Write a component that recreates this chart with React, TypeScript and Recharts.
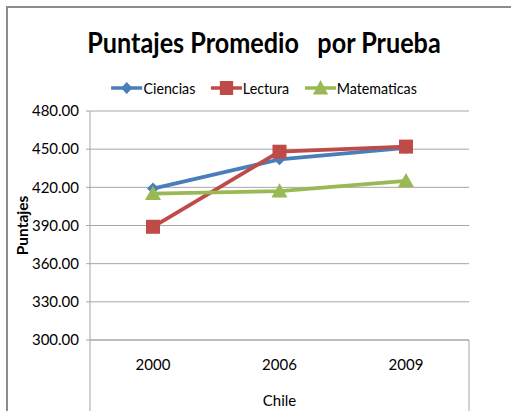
import React from 'react';
import { LineChart, Line, XAxis, YAxis, CartesianGrid } from 'recharts';

const categories = ['2000', '2006', '2009'];
const ciencias = [419, 442, 451];
const lectura = [389, 448, 452];
const matematicas = [415, 417, 425];
const yTicks = [300, 330, 360, 390, 420, 450, 480];

const seriesNames = ['Ciencias', 'Lectura', 'Matematicas'];
const seriesColors = ['#4a7ebb', '#be4b48', '#98b954'];

const data = categories.map((c, i) => ({
  year: c,
  Ciencias: ciencias[i],
  Lectura: lectura[i],
  Matematicas: matematicas[i],
}));

const FONT = 'Lato, "Liberation Sans", Arial, sans-serif';
const GRID = '#a6a6a6';

function Marker({ shape, cx, cy, color }: { shape: string; cx: number; cy: number; color: string }) {
  if (shape === 'diamond') {
    const r = 6;
    return <polygon points={`${cx},${cy - r} ${cx + r},${cy} ${cx},${cy + r} ${cx - r},${cy}`} fill={color} />;
  }
  if (shape === 'square') {
    const r = 7;
    return <rect x={cx - r} y={cy - r} width={2 * r} height={2 * r} fill={color} />;
  }
  const r = 8;
  return <polygon points={`${cx},${cy - r} ${cx + r},${cy + r * 0.8} ${cx - r},${cy + r * 0.8}`} fill={color} />;
}

const shapes = ['diamond', 'square', 'triangle'];

const makeDot = (shape: string, color: string) => (props: any) => {
  const { cx, cy, index } = props;
  if (cx == null || cy == null) return <g key={index} />;
  return <Marker key={index} shape={shape} cx={cx} cy={cy} color={color} />;
};

function Legend() {
  return (
    <div
      style={{
        position: 'absolute',
        left: 0,
        top: 79,
        width: 528,
        display: 'flex',
        justifyContent: 'center',
        gap: 16,
        fontFamily: FONT,
        fontSize: 15,
        lineHeight: '18px',
        color: '#000',
        transform: 'scaleX(0.95)',
        transformOrigin: '264px 0',
      }}
    >
      {seriesNames.map((n, i) => (
        <div key={n} style={{ display: 'flex', alignItems: 'center' }}>
          <svg width={33} height={18}>
            <line x1={0} y1={9} x2={33} y2={9} stroke={seriesColors[i]} strokeWidth={3.5} />
            <Marker shape={shapes[i]} cx={16.5} cy={9} color={seriesColors[i]} />
          </svg>
          <span style={{ marginLeft: 1 }}>{n}</span>
        </div>
      ))}
    </div>
  );
}

const XLabel = (props: any) => {
  const vb = props.viewBox || {};
  const x = vb.x ?? 0;
  const y = vb.y ?? 0;
  const w = vb.width ?? 0;
  const h = vb.height ?? 0;
  return (
    <g>
      <line x1={x} y1={y} x2={x} y2={y + h} stroke={GRID} strokeWidth={1} />
      <line x1={x + w} y1={y} x2={x + w} y2={y + h} stroke={GRID} strokeWidth={1} />
      <text x={x + w / 2} y={y + h - 5} textAnchor="middle" fontFamily={FONT} fontSize={15} fill="#000">
        Chile
      </text>
    </g>
  );
};

const YLabel = (props: any) => {
  const vb = props.viewBox || {};
  const cx = 22;
  const cy = (vb.y ?? 0) + (vb.height ?? 0) / 2;
  return (
    <text
      x={cx}
      y={cy}
      transform={`rotate(-90, ${cx}, ${cy})`}
      textAnchor="middle"
      dominantBaseline="central"
      fontFamily={FONT}
      fontWeight="bold"
      fontSize={15.5}
      fill="#000"
    >
      Puntajes
    </text>
  );
};

export default function App() {
  return (
    <div style={{ position: 'absolute', left: 0, top: 0, width: 511, height: 411, background: '#fff', overflow: 'hidden' }}>
      <div
        style={{
          position: 'absolute',
          left: 6,
          top: 6,
          width: 600,
          height: 500,
          borderTop: '2px solid #8c8c8c',
          borderLeft: '2px solid #8c8c8c',
        }}
      />
      <div
        style={{
          position: 'absolute',
          left: 0,
          top: 25,
          width: 528,
          textAlign: 'center',
          fontFamily: FONT,
          fontWeight: 'bold',
          fontSize: 28,
          lineHeight: '34px',
          whiteSpace: 'pre',
          color: '#000',
          transform: 'scaleX(0.9)',
          transformOrigin: '264px 0',
        }}
      >
        {'Puntajes Promedio   por Prueba'}
      </div>
      <Legend />
      <div style={{ position: 'absolute', left: 0, top: 0 }}>
        <LineChart width={511} height={411} data={data} margin={{ top: 111, right: 42, left: 0, bottom: 0 }}>
          <CartesianGrid vertical={false} stroke={GRID} strokeDasharray="" />
          <XAxis
            dataKey="year"
            height={71}
            axisLine={{ stroke: GRID }}
            tickLine={false}
            tickSize={0}
            tickMargin={19}
            padding={{ left: 63, right: 63 }}
            tick={{ fontFamily: FONT, fontSize: 15, fill: '#000' }}
            label={{ content: XLabel } as any}
            interval={0}
          />
          <YAxis
            width={90}
            domain={[300, 480]}
            ticks={yTicks}
            interval={0}
            tickFormatter={(v: number) => v.toFixed(2)}
            axisLine={{ stroke: GRID }}
            tickLine={{ stroke: GRID }}
            tickSize={4}
            tickMargin={7}
            tick={{ fontFamily: FONT, fontSize: 15, fill: '#000' }}
            label={{ content: YLabel } as any}
          />
          {seriesNames.map((n, i) => (
            <Line
              key={n}
              dataKey={n}
              stroke={seriesColors[i]}
              strokeWidth={3.8}
              dot={makeDot(shapes[i], seriesColors[i])}
              activeDot={false}
              isAnimationActive={false}
            />
          ))}
        </LineChart>
      </div>
    </div>
  );
}
